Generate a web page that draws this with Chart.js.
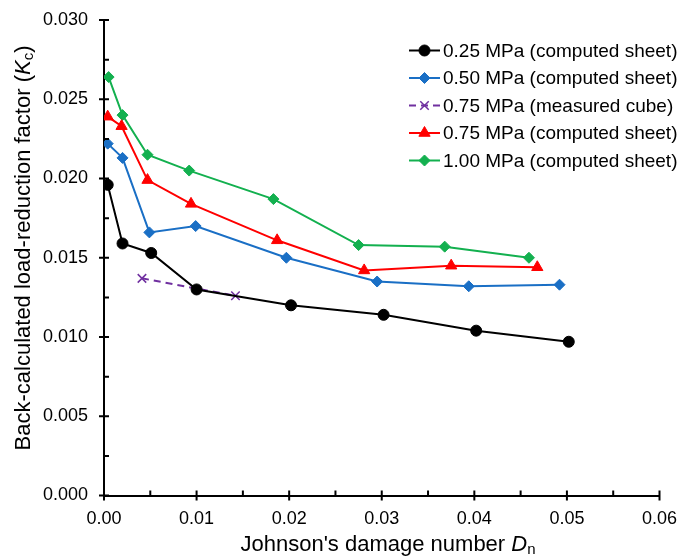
<!DOCTYPE html>
<html>
<head>
<meta charset="utf-8">
<script src="https://cdn.jsdelivr.net/npm/chart.js@4.4.1/dist/chart.umd.min.js"></script>
<style>
  html, body { margin: 0; padding: 0; background: #fff; }
  #wrap { width: 680px; height: 556px; position: relative; }
</style>
</head>
<body>
<div id="wrap"><canvas id="chart"></canvas></div>
<script>
// Series values (x = Johnson's damage number, y = Kc)
const seriesLabels = [
    '0.25 MPa (computed sheet)',
    '0.50 MPa (computed sheet)',
    '0.75 MPa (measured cube)',
    '0.75 MPa (computed sheet)',
    '1.00 MPa (computed sheet)'
];

const x025 = [0.0004, 0.0020, 0.0051, 0.0100, 0.0202, 0.0302, 0.0402, 0.0502];
const y025 = [0.0196, 0.0159, 0.0153, 0.0130, 0.0120, 0.0114, 0.0104, 0.0097];

const x050 = [0.0004, 0.0020, 0.0049, 0.0099, 0.0197, 0.0295, 0.0394, 0.0492];
const y050 = [0.0222, 0.0213, 0.0166, 0.0170, 0.0150, 0.0135, 0.0132, 0.0133];

const x075cube = [0.0041, 0.0142];
const y075cube = [0.0137, 0.0126];

const x075 = [0.0004, 0.0019, 0.0047, 0.0094, 0.0187, 0.0281, 0.0375, 0.0468];
const y075 = [0.0239, 0.0233, 0.0199, 0.0184, 0.0161, 0.0142, 0.0145, 0.0144];

const x100 = [0.0005, 0.0020, 0.0047, 0.0092, 0.0183, 0.0275, 0.0368, 0.0459];
const y100 = [0.0264, 0.0240, 0.0215, 0.0205, 0.0187, 0.0158, 0.0157, 0.0150];

// Axis ticks
const xTicks = [0, 0.01, 0.02, 0.03, 0.04, 0.05, 0.06];
const yTicks = [0, 0.005, 0.010, 0.015, 0.020, 0.025, 0.030];

const FONT = '"Liberation Sans", Arial, sans-serif';

function toPoints(xs, ys) {
    return xs.map((x, i) => ({ x: x, y: ys[i] }));
}

function makeSet(label, xs, ys, color, style, radius, dash) {
    return {
        label: label,
        data: toPoints(xs, ys),
        showLine: true,
        borderColor: color,
        backgroundColor: color,
        borderWidth: 2,
        borderDash: dash || [],
        pointStyle: style,
        pointRadius: radius,
        pointBorderColor: color,
        pointBackgroundColor: color,
        pointBorderWidth: style === 'crossRot' ? 1.5 : 1,
        tension: 0
    };
}

// Crossing major ticks, inside minor ticks
const tickPlugin = {
    id: 'ticks',
    afterDraw(chart) {
        const ctx = chart.ctx;
        const xs = chart.scales.x, ys = chart.scales.y;
        const area = chart.chartArea;
        ctx.save();
        ctx.strokeStyle = '#000';
        ctx.lineWidth = 2;
        ctx.beginPath();
        xTicks.forEach((v, i) => {
            const px = xs.getPixelForValue(v);
            ctx.moveTo(px, area.bottom - 5);
            ctx.lineTo(px, area.bottom + 5);
            if (i < xTicks.length - 1) {
                const mx = xs.getPixelForValue((v + xTicks[i + 1]) / 2);
                ctx.moveTo(mx, area.bottom - 5);
                ctx.lineTo(mx, area.bottom);
            }
        });
        yTicks.forEach((v, i) => {
            const py = ys.getPixelForValue(v);
            ctx.moveTo(area.left - 5, py);
            ctx.lineTo(area.left + 5, py);
            if (i < yTicks.length - 1) {
                const my = ys.getPixelForValue((v + yTicks[i + 1]) / 2);
                ctx.moveTo(area.left, my);
                ctx.lineTo(area.left + 5, my);
            }
        });
        ctx.stroke();
        ctx.restore();
    }
};

// Draw a run of text pieces (normal / italic / subscript) starting at x
function drawPieces(ctx, pieces, x, y) {
    pieces.forEach(p => {
        ctx.font = p.font;
        ctx.fillText(p.text, x, y + (p.dy || 0));
        x += ctx.measureText(p.text).width;
    });
}

function piecesWidth(ctx, pieces) {
    let w = 0;
    pieces.forEach(p => { ctx.font = p.font; w += ctx.measureText(p.text).width; });
    return w;
}

const titlePlugin = {
    id: 'titles',
    afterDraw(chart) {
        const ctx = chart.ctx;
        ctx.save();
        ctx.fillStyle = '#000';
        ctx.textBaseline = 'alphabetic';
        ctx.textAlign = 'left';

        const xt = [
            { text: "Johnson's damage number ", font: '22px ' + FONT },
            { text: 'D', font: 'italic 22px ' + FONT },
            { text: 'n', font: '15px ' + FONT, dy: 3 }
        ];
        const wx = piecesWidth(ctx, xt);
        drawPieces(ctx, xt, 388 - wx / 2, 551);

        const yt = [
            { text: 'Back-calculated load-reduction factor (', font: '22px ' + FONT },
            { text: 'K', font: 'italic 22px ' + FONT },
            { text: 'c', font: '15px ' + FONT, dy: 3 },
            { text: ')', font: '22px ' + FONT }
        ];
        const wy = piecesWidth(ctx, yt);
        ctx.translate(30, 248);
        ctx.rotate(-Math.PI / 2);
        drawPieces(ctx, yt, -wy / 2, 0);
        ctx.restore();
    }
};

const legendPlugin = {
    id: 'customLegend',
    afterDraw(chart) {
        const ctx = chart.ctx;
        ctx.save();
        chart.data.datasets.forEach((ds, i) => {
            const y = 50.5 + i * 27.5;
            ctx.strokeStyle = ds.borderColor;
            ctx.lineWidth = 2;
            ctx.setLineDash(ds.borderDash);
            ctx.beginPath();
            ctx.moveTo(409, y);
            ctx.lineTo(440, y);
            ctx.stroke();
            ctx.setLineDash([]);
            ctx.fillStyle = ds.pointBackgroundColor;
            ctx.strokeStyle = ds.pointBorderColor;
            ctx.lineWidth = ds.pointBorderWidth;
            Chart.helpers.drawPoint(ctx, {
                pointStyle: ds.pointStyle,
                radius: ds.pointRadius,
                rotation: 0,
                borderWidth: ds.pointBorderWidth
            }, 424.5, y);
            ctx.fillStyle = '#000';
            ctx.font = '19px ' + FONT;
            ctx.textBaseline = 'middle';
            ctx.textAlign = 'left';
            ctx.fillText(ds.label, 443, y + 1);
        });
        ctx.restore();
    }
};

new Chart(document.getElementById('chart'), {
    type: 'scatter',
    data: {
        datasets: [
            makeSet(seriesLabels[0], x025, y025, '#000000', 'circle', 5.5),
            makeSet(seriesLabels[1], x050, y050, '#1a6fc5', 'rectRot', 5.5),
            makeSet(seriesLabels[2], x075cube, y075cube, '#7030a0', 'crossRot', 6, [7, 5]),
            makeSet(seriesLabels[3], x075, y075, '#ff0000', 'triangle', 6.5),
            makeSet(seriesLabels[4], x100, y100, '#13b04f', 'rectRot', 5.5)
        ]
    },
    options: {
        responsive: true,
        maintainAspectRatio: false,
        animation: false,
        events: [],
        layout: { padding: { top: 20, right: 20.5, left: 0, bottom: 0 } },
        plugins: {
            legend: { display: false },
            tooltip: { enabled: false }
        },
        scales: {
            x: {
                type: 'linear',
                min: 0,
                max: 0.06,
                afterBuildTicks(scale) { scale.ticks = xTicks.map(v => ({ value: v })); },
                afterFit(scale) {
                    scale.height = 60.5;
                    scale.paddingLeft = 0;
                    scale.paddingRight = 0;
                },
                grid: { display: false, drawTicks: false },
                border: { display: true, color: '#000', width: 2 },
                ticks: {
                    padding: 13,
                    color: '#000',
                    font: { family: FONT, size: 18 },
                    callback: v => v.toFixed(2)
                }
            },
            y: {
                type: 'linear',
                min: 0,
                max: 0.03,
                afterBuildTicks(scale) { scale.ticks = yTicks.map(v => ({ value: v })); },
                afterFit(scale) {
                    scale.width = 104;
                    scale.paddingTop = 0;
                    scale.paddingBottom = 0;
                },
                grid: { display: false, drawTicks: false },
                border: { display: true, color: '#000', width: 2 },
                ticks: {
                    padding: 16,
                    color: '#000',
                    font: { family: FONT, size: 18 },
                    callback: v => v.toFixed(3)
                }
            }
        }
    },
    plugins: [tickPlugin, titlePlugin, legendPlugin]
});
</script>
</body>
</html>
